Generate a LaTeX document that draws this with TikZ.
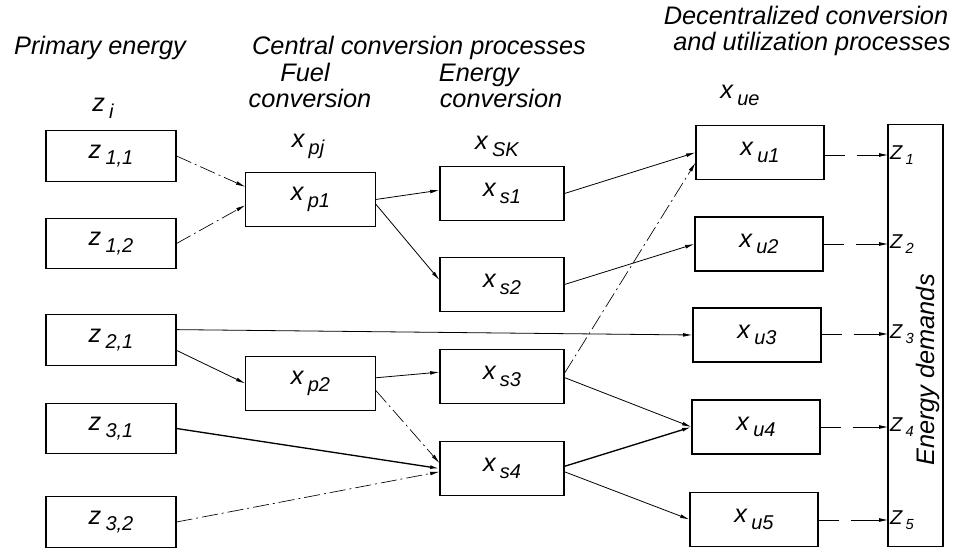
\documentclass[tikz,border=0pt]{standalone}
\usepackage{fontspec}
\setmainfont{Liberation Sans}
\usetikzlibrary{arrows.meta}
\newcommand{\lowix}[2][15]{\,\raisebox{-0.5ex}{\fontsize{#1}{#1}\selectfont #2}}
\begin{document}
\begin{tikzpicture}[x=0.75pt,y=-0.75pt,
	every node/.style={font=\itshape\fontsize{19}{20}\selectfont},
	box/.style={draw,line width=0.8pt,inner sep=0pt},
	zbox/.style={box,minimum width=97.5pt,minimum height=38pt},
	pbox/.style={box,minimum width=97pt,minimum height=41pt},
	sbox/.style={box,minimum width=93pt,minimum height=41pt},
	ubox/.style={box,minimum width=96pt,minimum height=40.5pt},
	head/.style={anchor=base},
	dlabel/.style={anchor=west,inner sep=1pt,font=\itshape\fontsize{15}{16}\selectfont},
	arr/.style={-{Latex[length=7pt,width=2.8pt]},line width=0.6pt},
	heavy/.style={arr,line width=1pt},
	dashdot/.style={arr,line width=0.5pt,dash pattern=on 12pt off 3pt on 1.5pt off 3pt},
	demandline/.style={arr,dash pattern=on 15pt off 9pt on 40pt off 10pt}]
	\useasboundingbox (0,0) rectangle (956,548);

	\node[head] (hprim) at (100,55) {Primary energy};
	\node[head] (hcent) at (419,55) {Central conversion processes};
	\node[head] (hfuel) at (305,82) {Fuel};
	\node[head] (hfconv) at (310,108) {conversion};
	\node[head] (heng) at (479,82) {Energy};
	\node[head] (heconv) at (501,108) {conversion};
	\node[head] (hdec) at (806,25) {Decentralized conversion};
	\node[head] (hutil) at (812,51) {and utilization processes};

	\node[head] (zi) at (103,112) {z\lowix{i}};
	\node[head] (xpj) at (308,148) {x\lowix{pj}};
	\node[head] (xsk) at (497,150) {x\lowix{SK}};
	\node[head] (xue) at (740,99) {x\lowix{ue}};

	\node[zbox] (z11) at (111,156) {z\lowix{1,1}};
	\node[zbox] (z12) at (111,243.5) {z\lowix{1,2}};
	\node[zbox] (z21) at (111,340) {z\lowix{2,1}};
	\node[zbox] (z31) at (111,428.5) {z\lowix{3,1}};
	\node[zbox] (z32) at (111,522) {z\lowix{3,2}};

	\node[pbox] (xp1) at (310.5,199.5) {x\lowix{p1}};
	\node[pbox] (xp2) at (310.5,383.5) {x\lowix{p2}};

	\node[sbox] (xs1) at (502,193.5) {x\lowix{s1}};
	\node[sbox] (xs2) at (502,284.5) {x\lowix{s2}};
	\node[sbox] (xs3) at (502,376.5) {x\lowix{s3}};
	\node[sbox] (xs4) at (502,468.5) {x\lowix{s4}};

	\node[ubox] (xu1) at (760,152.5) {x\lowix{u1}};
	\node[ubox] (xu2) at (759,244) {x\lowix{u2}};
	\node[ubox] (xu3) at (757,335) {x\lowix{u3}};
	\node[ubox] (xu4) at (756,427) {x\lowix{u4}};
	\node[ubox] (xu5) at (754,519.5) {x\lowix{u5}};

	\node[box,minimum width=41.25pt,minimum height=317pt] (demand) at (915.5,335.5) {};
	\node[rotate=90] (edem) at (928,370) {Energy demands};
	\foreach \i/\y in {1/155,2/244,3/334,4/427,5/520}
		\node[dlabel] (d\i) at (888.5,\y) {Z\lowix[11]{\i}};

	\draw[dashdot] (z11.east) -- (xp1.169);
	\draw[dashdot] (z12.east) -- (xp1.185);
	\draw[arr] (z21.9) -- (xu3.west);
	\draw[arr] (z21.-9) -- (xp2.west);
	\draw[heavy] (z31.east) -- (xs4.west);
	\draw[dashdot] (z32.east) -- (xs4.183);

	\draw[arr] (xp1.east) -- (xs1.177);
	\draw[arr] (xp1.-4) -- (xs2.176);
	\draw[arr] (xp2.5) -- (xs3.176);
	\draw[dashdot] (xp2.-6) -- (xs4.175);

	\draw[arr] (xs1.east) -- (xu1.west);
	\draw[arr] (xs2.east) -- (xu2.west);
	\draw[dashdot] (xs3.3) -- (xu1.189);
	\draw[arr] (xs3.-1) -- (xu4.west);
	\draw[heavy] (xs4.2) -- (xu4.west);
	\draw[arr] (xs4.-3) -- (xu5.west);

	\foreach \i in {1,...,5}
		\draw[demandline] (xu\i.east |- d\i.west) -- (d\i.west);
\end{tikzpicture}
\end{document}
